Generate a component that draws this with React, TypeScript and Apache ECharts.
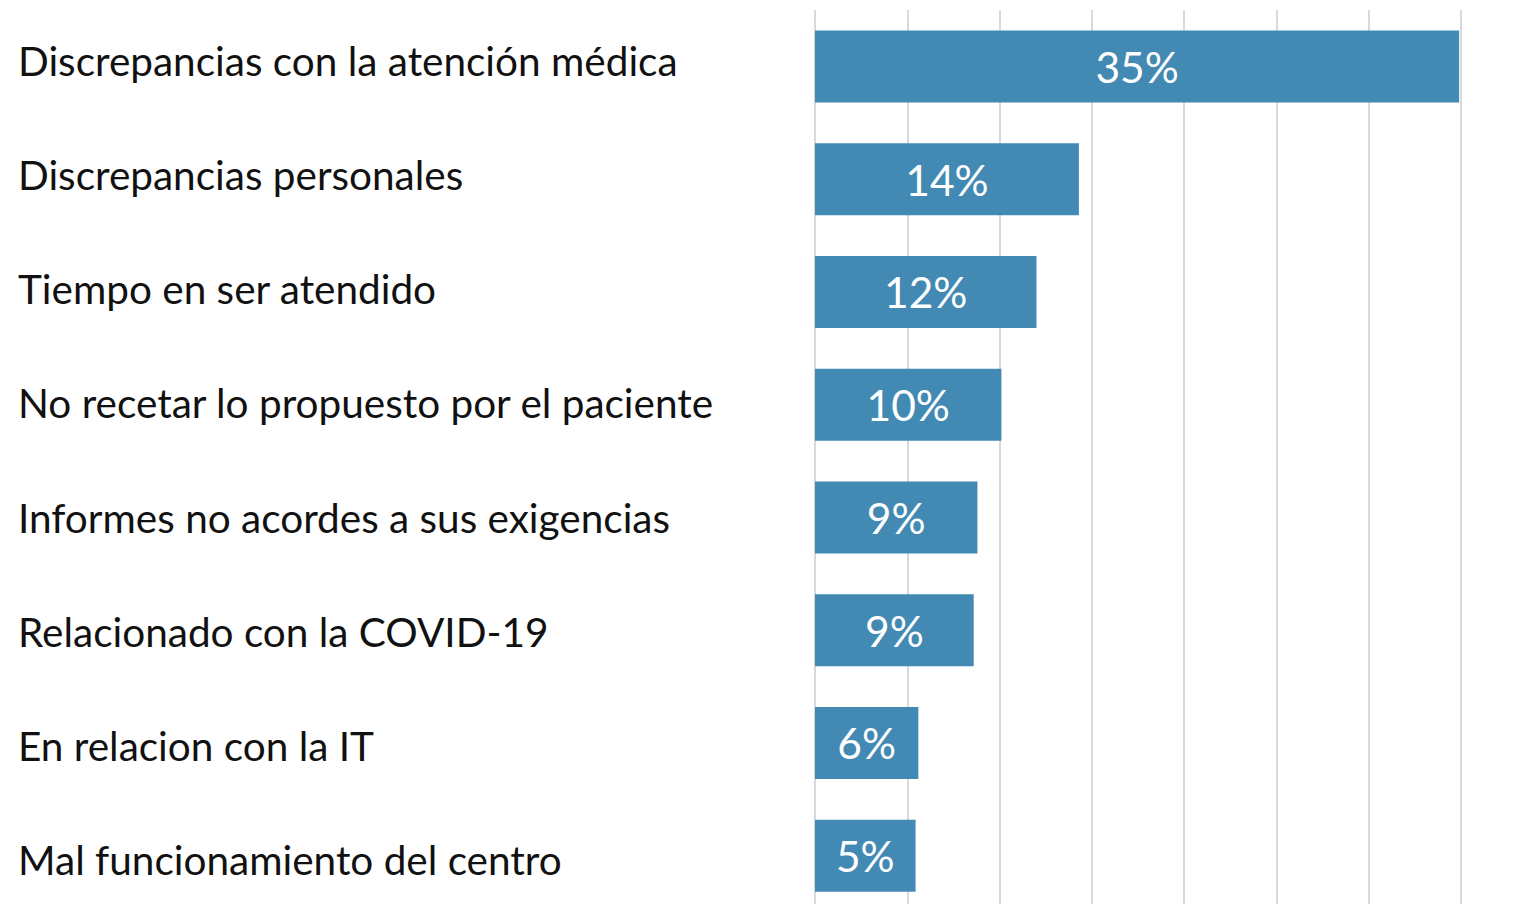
import React, { useEffect, useRef } from "react";
import * as echarts from "echarts";

const categories = [
  "Discrepancias con la atención médica",
  "Discrepancias personales",
  "Tiempo en ser atendido",
  "No recetar lo propuesto por el paciente",
  "Informes no acordes a sus exigencias",
  "Relacionado con la COVID-19",
  "En relacion con la IT",
  "Mal funcionamiento del centro",
];
const values = [34.9, 14.3, 12.0, 10.1, 8.8, 8.6, 5.6, 5.45];
const valueLabels = ["35%", "14%", "12%", "10%", "9%", "9%", "6%", "5%"];

export default function App() {
  const ref = useRef<HTMLDivElement>(null);
  useEffect(() => {
    if (!ref.current) return;
    const chart = echarts.init(ref.current, undefined, { renderer: "svg" });
    chart.setOption({
      animation: false,
      backgroundColor: "#ffffff",
      grid: [
        { left: 815, right: 73, top: 10, height: 902, containLabel: false },
        { left: 815, right: 73, top: 8.5, height: 913, containLabel: false },
      ],
      xAxis: [
        {
          type: "value",
          gridIndex: 0,
          min: 0,
          max: 35,
          interval: 5,
          axisLabel: { show: false },
          axisLine: { show: false },
          axisTick: { show: false },
          splitLine: { show: true, lineStyle: { color: "#d9d9d9", width: 2 } },
        },
        {
          type: "value",
          gridIndex: 1,
          min: 0,
          max: 35,
          show: false,
        },
      ],
      yAxis: [
        {
          type: "category",
          gridIndex: 0,
          inverse: true,
          data: categories,
          axisLine: { show: false },
          axisTick: { show: false },
          axisLabel: { show: false },
        },
        {
          type: "category",
          gridIndex: 1,
          inverse: true,
          data: categories,
          axisLine: { show: false },
          axisTick: { show: false },
          splitLine: { show: false },
          axisLabel: {
            align: "left",
            margin: 797,
            verticalAlign: "middle",
            formatter: (v: string) => "{a|" + v + "}",
            rich: {
              a: {
                color: "#111111",
                fontFamily: "Lato",
                fontSize: 40.5,
                lineHeight: 48,
                padding: [0, 0, 10, 0],
              },
            },
          },
        },
      ],
      series: [
        {
          type: "bar",
          xAxisIndex: 0,
          yAxisIndex: 0,
          data: values,
          barWidth: 72,
          itemStyle: { color: "#428ab4" },
          label: {
            show: true,
            position: "inside",
            color: "#ffffff",
            fontFamily: "Lato",
            fontSize: 42.5,
            formatter: (p: any) => valueLabels[p.dataIndex],
          },
        },
      ],
    });
    return () => chart.dispose();
  }, []);
  return (
    <div
      style={{ position: "absolute", left: 0, top: 0, width: 1534, height: 904, overflow: "hidden", background: "#fff" }}
    >
      <div ref={ref} style={{ width: 1534, height: 930 }} />
    </div>
  );
}
